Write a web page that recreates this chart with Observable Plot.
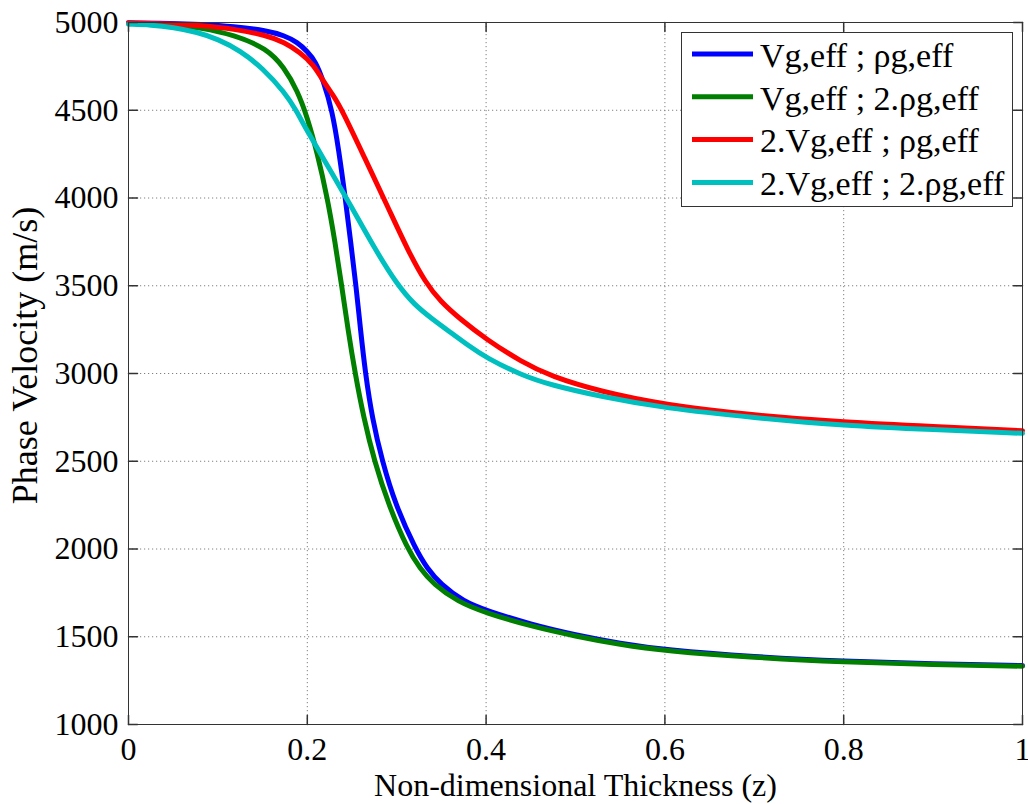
<!DOCTYPE html>
<html>
<head>
<meta charset="utf-8">
<script src="https://cdn.jsdelivr.net/npm/d3@7"></script>
<script src="https://cdn.jsdelivr.net/npm/@observablehq/plot@0.6"></script>
<style>
  body { margin: 0; background: #fff; }
  #wrap { position: relative; width: 1028px; height: 804px; font-family: "Liberation Serif", "Times New Roman", serif; }
  #legend { position: absolute; left: 681px; top: 32px; }
</style>
</head>
<body>
<div id="wrap"></div>
<script>
// ---- data ----
const xTicks = [0, 0.2, 0.4, 0.6, 0.8, 1];
const yTicks = [1000, 1500, 2000, 2500, 3000, 3500, 4000, 4500, 5000];
const xLabel = "Non-dimensional Thickness (z)";
const yLabel = "Phase Velocity (m/s)";

const seriesNames = ["Vg,eff ; ρg,eff", "Vg,eff ; 2.ρg,eff", "2.Vg,eff ; ρg,eff", "2.Vg,eff ; 2.ρg,eff"];
const seriesColors = ["#0000ff", "#007f00", "#ff0000", "#00bfbf"];

const blueX = [0, 0.05, 0.08, 0.118, 0.155, 0.174, 0.189, 0.200, 0.209, 0.2178, 0.2278, 0.2353, 0.2425, 0.2485, 0.2545, 0.2595, 0.265, 0.2726, 0.2838, 0.2987, 0.321, 0.334, 0.349, 0.375, 0.40, 0.45, 0.50, 0.55, 0.60, 0.70, 0.80, 0.90, 1.00];
const blueY = [4998, 4995, 4989, 4977, 4954, 4926, 4888, 4835, 4780, 4670, 4500, 4270, 4000, 3750, 3500, 3250, 3000, 2745, 2500, 2250, 2000, 1890, 1800, 1700, 1650, 1570, 1510, 1462, 1425, 1385, 1360, 1345, 1336];

const greenX = [0, 0.05, 0.08, 0.118, 0.155, 0.174, 0.189, 0.200, 0.211, 0.2225, 0.231, 0.2385, 0.2455, 0.2535, 0.263, 0.275, 0.291, 0.312, 0.326, 0.341, 0.368, 0.40, 0.45, 0.50, 0.55, 0.60, 0.70, 0.80, 0.90, 1.00];
const greenY = [4995, 4988, 4970, 4930, 4851, 4745, 4611, 4460, 4260, 4000, 3750, 3500, 3250, 3000, 2750, 2500, 2250, 2000, 1890, 1800, 1700, 1635, 1560, 1503, 1455, 1420, 1381, 1356, 1341, 1332];

const redX = [0, 0.05, 0.08, 0.118, 0.155, 0.174, 0.192, 0.207, 0.218, 0.229, 0.239, 0.264, 0.290, 0.3136, 0.332, 0.349, 0.371, 0.40, 0.44, 0.472, 0.528, 0.60, 0.70, 0.80, 0.90, 1.00];
const redY = [4998, 4992, 4983, 4964, 4926, 4888, 4830, 4760, 4665, 4585, 4500, 4230, 3950, 3690, 3520, 3410, 3310, 3195, 3065, 2985, 2897, 2821, 2762, 2722, 2697, 2674];

const cyanX = [0, 0.025, 0.05, 0.077, 0.10, 0.125, 0.15, 0.175, 0.1875, 0.20, 0.225, 0.25, 0.275, 0.30, 0.32, 0.34, 0.36, 0.38, 0.40, 0.44, 0.472, 0.528, 0.60, 0.70, 0.80, 0.90, 1.00];
const cyanY = [4990, 4987, 4972, 4945, 4905, 4840, 4740, 4600, 4500, 4380, 4165, 3945, 3715, 3510, 3390, 3310, 3235, 3160, 3090, 2990, 2935, 2869, 2802, 2748, 2703, 2680, 2659];

const seriesX = [blueX, greenX, redX, cyanX];
const seriesY = [blueY, greenY, redY, cyanY];

// ---- table ----
const table = [];
seriesNames.forEach((name, i) => {
  seriesX[i].forEach((x, j) => table.push({series: name, x, y: seriesY[i][j]}));
});

const fmtX = d => String(+d.toFixed(1));
const tickShape = {draw(context, l) { context.moveTo(0, 0); context.lineTo(0, -l); }};
const axisColor = "#333";
const tickLen = 9;
const yMin = yTicks[0], yMax = yTicks[yTicks.length - 1];
const xMin = xTicks[0], xMax = xTicks[xTicks.length - 1];
const serif = "'Liberation Serif', 'Times New Roman', serif";

const chart = Plot.plot({
  width: 1028,
  height: 804,
  marginLeft: 128,
  marginRight: 6,
  marginTop: 22,
  marginBottom: 80,
  x: {domain: [xMin, xMax]},
  y: {domain: [yMin, yMax]},
  color: {domain: seriesNames, range: seriesColors},
  style: {fontFamily: serif, fontSize: "32px", color: "#000", background: "#fff", overflow: "visible"},
  marks: [
    Plot.gridX(xTicks.slice(1, -1), {stroke: "#808080", strokeOpacity: 1, strokeDasharray: "1.2,2.8"}),
    Plot.gridY(yTicks.slice(1, -1), {stroke: "#808080", strokeOpacity: 1, strokeDasharray: "1.2,2.8"}),
    Plot.line(table, {x: "x", y: "y", z: "series", stroke: "series", strokeWidth: 5, curve: "basis"}),
    Plot.frame({stroke: axisColor}),
    Plot.vector(xTicks, {x: d => d, y: () => yMin, length: tickLen, rotate: 0, anchor: "start", shape: tickShape, stroke: axisColor}),
    Plot.vector(xTicks, {x: d => d, y: () => yMax, length: tickLen, rotate: 180, anchor: "start", shape: tickShape, stroke: axisColor}),
    Plot.vector(yTicks, {x: () => xMin, y: d => d, length: tickLen, rotate: 90, anchor: "start", shape: tickShape, stroke: axisColor}),
    Plot.vector(yTicks, {x: () => xMax, y: d => d, length: tickLen, rotate: -90, anchor: "start", shape: tickShape, stroke: axisColor}),
    Plot.axisX(xTicks, {tickSize: 0, tickPadding: 13, tickFormat: fmtX, fontSize: 32, fill: "#000", label: null}),
    Plot.axisY(yTicks, {tickSize: 0, tickPadding: 10, tickFormat: d => String(d), fontSize: 32, fill: "#000", label: null}),
    Plot.text([xLabel], {text: d => d, frameAnchor: "bottom", textAnchor: "middle", lineAnchor: "middle", dy: 61, fontSize: 32, fill: "#000"}),
    Plot.text([yLabel], {text: d => d, frameAnchor: "left", textAnchor: "middle", lineAnchor: "middle", rotate: -90, dx: -103.5, dy: -18, fontSize: 36, fill: "#000"})
  ]
});

const wrap = document.getElementById("wrap");
wrap.appendChild(chart);

// ---- legend ----
const ns = "http://www.w3.org/2000/svg";
const lg = document.createElementNS(ns, "svg");
lg.setAttribute("id", "legend");
lg.setAttribute("width", 333);
lg.setAttribute("height", 176);
const box = document.createElementNS(ns, "rect");
box.setAttribute("x", 0.5); box.setAttribute("y", 0.5);
box.setAttribute("width", 331); box.setAttribute("height", 174);
box.setAttribute("fill", "#fff"); box.setAttribute("stroke", axisColor);
lg.appendChild(box);
seriesNames.forEach((name, i) => {
  const ly = 22 + i * 42.8;
  const ln = document.createElementNS(ns, "line");
  ln.setAttribute("x1", 11); ln.setAttribute("x2", 72);
  ln.setAttribute("y1", ly); ln.setAttribute("y2", ly);
  ln.setAttribute("stroke", seriesColors[i]); ln.setAttribute("stroke-width", 5);
  lg.appendChild(ln);
  const tx = document.createElementNS(ns, "text");
  tx.setAttribute("x", 79); tx.setAttribute("y", ly + 12.7);
  tx.setAttribute("font-size", 34);
  tx.setAttribute("font-family", serif);
  tx.setAttribute("fill", "#000");
  tx.textContent = name;
  lg.appendChild(tx);
});
wrap.appendChild(lg);
</script>
</body>
</html>
